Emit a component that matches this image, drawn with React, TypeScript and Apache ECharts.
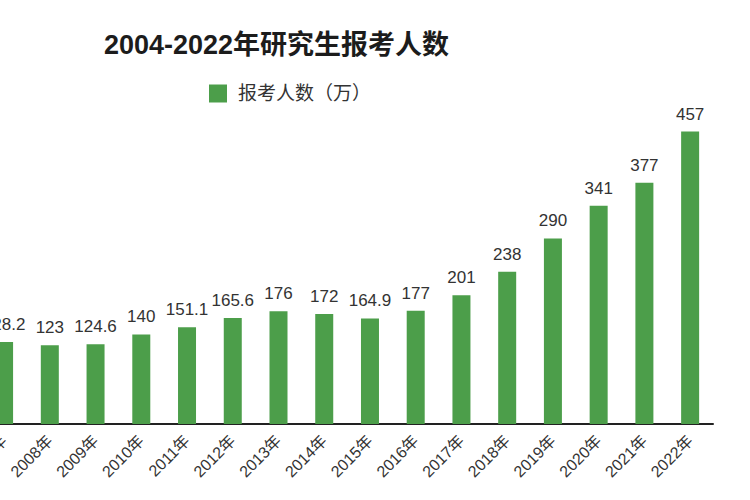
import React, { useEffect, useRef } from "react";
import * as echarts from "echarts";

const years = [
  "2004年", "2005年", "2006年", "2007年", "2008年", "2009年", "2010年", "2011年",
  "2012年", "2013年", "2014年", "2015年", "2016年", "2017年", "2018年", "2019年",
  "2020年", "2021年", "2022年",
];
const applicants = [
  94.5, 117.2, 127.1, 128.2, 123, 124.6, 140, 151.1, 165.6, 176, 172, 164.9, 177,
  201, 238, 290, 341, 377, 457,
];
const titleText = "2004-2022年研究生报考人数";
const seriesName = "报考人数（万）";

const FONT = "'Liberation Sans', 'Noto Sans CJK SC', sans-serif";

export default function App() {
  const ref = useRef<HTMLDivElement>(null);
  useEffect(() => {
    if (!ref.current) return;
    const chart = echarts.init(ref.current, null, { renderer: "svg" });
    chart.setOption({
      animation: false,
      backgroundColor: "#ffffff",
      title: {
        text: titleText,
        left: 99,
        top: 26,
        textStyle: {
          fontSize: 27,
          fontWeight: "bold",
          color: "#1c1c1c",
          fontFamily: FONT,
        },
      },
      legend: {
        left: 204,
        top: 79,
        itemWidth: 18,
        itemHeight: 18,
        itemGap: 10,
        icon: "rect",
        textStyle: { fontSize: 19, color: "#333", fontFamily: FONT, padding: [0, 0, 0, 6] },
        data: [seriesName],
      },
      grid: {
        left: -156,
        right: 37,
        top: 104,
        bottom: 76,
        containLabel: false,
        outerBoundsMode: "none",
      },
      xAxis: {
        type: "category",
        data: years,
        axisLine: { lineStyle: { color: "#222", width: 2 } },
        axisTick: { show: false },
        axisLabel: {
          rotate: 45,
          interval: 0,
          margin: 14,
          fontSize: 16,
          color: "#333",
          fontFamily: FONT,
        },
      },
      yAxis: {
        type: "value",
        min: 0,
        max: 500,
        show: false,
        splitLine: { show: false },
      },
      series: [
        {
          name: seriesName,
          type: "bar",
          data: applicants,
          barWidth: 18,
          itemStyle: { color: "#4c9e4a" },
          label: {
            show: true,
            position: "top",
            distance: 9,
            fontSize: 17,
            color: "#333",
            fontFamily: FONT,
          },
        },
      ],
    });
    return () => chart.dispose();
  }, []);
  return (
    <div
      ref={ref}
      style={{ position: "absolute", left: 0, top: 0, width: 750, height: 500 }}
    />
  );
}
